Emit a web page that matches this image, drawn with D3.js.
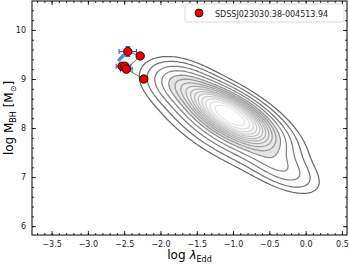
<!DOCTYPE html>
<html>
<head>
<meta charset="utf-8">
<script src="https://cdn.jsdelivr.net/npm/d3@7"></script>
<style>
  body { margin: 0; background: #fff; }
  svg { font-family: "DejaVu Sans", sans-serif; }
</style>
</head>
<body>
<div id="chart-area"></div>
<script>
const MARGINS = { top: 1, right: 2, left: 32, bottom: 29 };
const WIDTH = 349, HEIGHT = 264;
const CHART_WIDTH = WIDTH - MARGINS.left - MARGINS.right;
const CHART_HEIGHT = HEIGHT - MARGINS.top - MARGINS.bottom;

// epochs of the source (log lambda_Edd, log M_BH)
const pointX = [-2.45, -2.28, -2.53, -2.49, -2.47, -2.23];
const pointY = [9.56, 9.47, 9.26, 9.26, 9.20, 9.00];
const errX = [0.12, 0.05, 0.08, 0.08, 0.08, 0.05];
const errY = [0.10, 0.03, 0.03, 0.03, 0.03, 0.03];
// order of the green track
const trackOrder = [0, 1, 4, 5];
// light blue blob
const blobX = [-2.57, -2.51];
const blobY = [9.39, 9.48];

// density cloud of the comparison sample, as gaussian components
const compX = [-1.05, -1.1, -1.75, -0.35];
const compY = [8.3, 8.05, 8.95, 7.2];
const compSu = [0.48, 0.65, 0.3, 0.36];
const compSv = [0.2, 0.27, 0.22, 0.18];
const compW = [1, 0.22, 0.15, 0.12];
const contourLevels = [0.025, 0.05, 0.09, 0.14, 0.2, 0.26, 0.32, 0.38, 0.44, 0.50, 0.56, 0.63, 0.70, 0.78, 0.87];

const xTicks = [-3.5, -3.0, -2.5, -2.0, -1.5, -1.0, -0.5, 0.0, 0.5];
const yTicks = [6, 7, 8, 9, 10];
const legendLabel = "SDSSJ023030.38-004513.94";

const svg = d3.select('#chart-area')
  .append('svg')
  .attr('width', WIDTH)
  .attr('height', HEIGHT);

const g = svg.append('g')
  .attr('transform', `translate(${MARGINS.left}, ${MARGINS.top})`);

const xScale = d3.scaleLinear().domain([-3.77, 0.57]).range([0, CHART_WIDTH]);
const yScale = d3.scaleLinear().domain([5.82, 10.59]).range([CHART_HEIGHT, 0]);

// density grid in pixel space
const STEP = 2;
const nx = Math.ceil(CHART_WIDTH / STEP) + 1;
const ny = Math.ceil(CHART_HEIGHT / STEP) + 1;
const grid = new Array(nx * ny);
const c45 = Math.SQRT1_2;
for (let j = 0; j < ny; j++) {
  for (let i = 0; i < nx; i++) {
    const x = xScale.invert(i * STEP), y = yScale.invert(j * STEP);
    let v = 0;
    for (let k = 0; k < compX.length; k++) {
      const dx = x - compX[k], dy = y - compY[k];
      const u = (dx - dy) * c45, w = (dx + dy) * c45;
      v += compW[k] * Math.exp(-0.5 * (u * u / (compSu[k] * compSu[k]) + w * w / (compSv[k] * compSv[k])));
    }
    grid[j * nx + i] = v;
  }
}
const peak = d3.max(grid);
const contours = d3.contours().size([nx, ny]).thresholds(contourLevels.map(l => l * peak))(grid);
const path = d3.geoPath(d3.geoTransform({
  point: function (x, y) { this.stream.point(x * STEP, y * STEP); }
}));
const lineColor = d3.scaleLinear().domain([0, contourLevels.length - 1]).range(['#6a6a6a', '#e8e8e8']);
const fillColor = d3.scaleLinear().domain([4, contourLevels.length - 1]).range(['#e4e4e4', '#ffffff']);

g.append('g').selectAll('path')
  .data(contours)
  .enter().append('path')
  .attr('d', path)
  .attr('fill', (d, i) => i >= 4 ? fillColor(i) : 'none')
  .attr('stroke', (d, i) => lineColor(i))
  .attr('stroke-width', 1.25);

// green track
g.append('path')
  .datum(trackOrder)
  .attr('d', d3.line().x(i => xScale(pointX[i])).y(i => yScale(pointY[i])))
  .attr('fill', 'none')
  .attr('stroke', '#2ca02c')
  .attr('stroke-width', 1);

// light blue blob
g.append('line')
  .attr('x1', xScale(blobX[0])).attr('y1', yScale(blobY[0]))
  .attr('x2', xScale(blobX[1])).attr('y2', yScale(blobY[1]))
  .attr('stroke', '#3a8ff5')
  .attr('stroke-width', 3.5)
  .attr('stroke-linecap', 'round');

// error bars
const eb = g.append('g').attr('stroke', '#2b2bf0').attr('stroke-width', 1.1).attr('opacity', 0.85);
pointX.forEach((px, i) => {
  const cx = xScale(px), cy = yScale(pointY[i]);
  const x0 = xScale(px - errX[i]), x1 = xScale(px + errX[i]);
  const y0 = yScale(pointY[i] - errY[i]), y1 = yScale(pointY[i] + errY[i]);
  eb.append('line').attr('x1', x0).attr('x2', x1).attr('y1', cy).attr('y2', cy);
  eb.append('line').attr('x1', x0).attr('x2', x0).attr('y1', cy - 2.5).attr('y2', cy + 2.5);
  eb.append('line').attr('x1', x1).attr('x2', x1).attr('y1', cy - 2.5).attr('y2', cy + 2.5);
  eb.append('line').attr('x1', cx).attr('x2', cx).attr('y1', y0).attr('y2', y1);
  eb.append('line').attr('x1', cx - 2.5).attr('x2', cx + 2.5).attr('y1', y0).attr('y2', y0);
  eb.append('line').attr('x1', cx - 2.5).attr('x2', cx + 2.5).attr('y1', y1).attr('y2', y1);
});

g.append('g').selectAll('circle')
  .data(pointX)
  .enter().append('circle')
  .attr('cx', d => xScale(d))
  .attr('cy', (d, i) => yScale(pointY[i]))
  .attr('r', 4.2)
  .attr('fill', '#ee0000')
  .attr('stroke', '#000')
  .attr('stroke-width', 0.8);

// axes, ticks inward on all sides
const fmt = d => d3.format('.1f')(d).replace('-', '\u2212');
const xMinor = d3.range(-37, 6).map(d => d / 10);
const yMinor = d3.range(30, 53).map(d => d / 5);

const axes = [
  { tr: `translate(0, ${CHART_HEIGHT})`, ax: d3.axisBottom, s: xScale, maj: xTicks, min: xMinor, lab: true, f: fmt },
  { tr: 'translate(0, 0)', ax: d3.axisTop, s: xScale, maj: xTicks, min: xMinor, lab: false },
  { tr: 'translate(0, 0)', ax: d3.axisLeft, s: yScale, maj: yTicks, min: yMinor, lab: true, f: d3.format('d') },
  { tr: `translate(${CHART_WIDTH}, 0)`, ax: d3.axisRight, s: yScale, maj: yTicks, min: yMinor, lab: false }
];
axes.forEach(a => {
  const minor = g.append('g').attr('transform', a.tr)
    .call(a.ax(a.s).tickValues(a.min).tickSize(-2).tickFormat(''));
  minor.select('.domain').remove();
  const major = g.append('g').attr('transform', a.tr)
    .call(a.ax(a.s).tickValues(a.maj).tickSize(-4).tickPadding(6).tickFormat(a.lab ? a.f : ''));
  major.select('.domain').remove();
  major.selectAll('text').attr('font-size', '8px').attr('fill', '#222').attr('font-family', '"DejaVu Sans", sans-serif');
});
g.selectAll('.tick line').attr('stroke', '#000').attr('stroke-width', 0.8);

g.append('rect')
  .attr('width', CHART_WIDTH).attr('height', CHART_HEIGHT)
  .attr('fill', 'none').attr('stroke', '#000').attr('stroke-width', 1);

// axis labels
const xl = svg.append('text')
  .attr('x', MARGINS.left + CHART_WIDTH / 2)
  .attr('y', 259)
  .attr('text-anchor', 'middle')
  .attr('font-size', '12px');
xl.append('tspan').text('log ');
xl.append('tspan').attr('font-style', 'italic').text('\u03bb');
xl.append('tspan').attr('font-size', '8px').attr('dy', 3).text('Edd');

const yl = svg.append('text')
  .attr('transform', `translate(13, ${MARGINS.top + CHART_HEIGHT / 2}) rotate(-90)`)
  .attr('text-anchor', 'middle')
  .attr('font-size', '12px');
yl.append('tspan').text('log M');
yl.append('tspan').attr('font-size', '8px').attr('dy', 3).text('BH');
yl.append('tspan').attr('dy', -3).text(' [M');
yl.append('tspan').attr('font-size', '8px').attr('dy', 3).text('\u2299');
yl.append('tspan').attr('dy', -3).text(']');

// legend
const lg = svg.append('g').attr('transform', 'translate(185, 4)');
lg.append('rect')
  .attr('width', 159).attr('height', 18).attr('rx', 2)
  .attr('fill', '#fff').attr('stroke', '#d0d0d0').attr('stroke-width', 0.8);
lg.append('circle')
  .attr('cx', 14).attr('cy', 9).attr('r', 4)
  .attr('fill', '#ee0000').attr('stroke', '#000').attr('stroke-width', 0.8);
lg.append('text')
  .attr('x', 30).attr('y', 12.5)
  .attr('font-size', '8px').attr('fill', '#222')
  .text(legendLabel);
</script>
</body>
</html>
